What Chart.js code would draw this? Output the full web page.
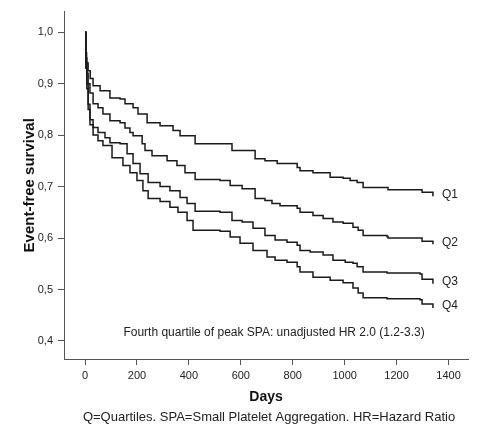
<!DOCTYPE html>
<html>
<head>
<meta charset="utf-8">
<script src="https://cdn.jsdelivr.net/npm/chart.js@4/dist/chart.umd.min.js"></script>
<style>
  body { margin: 0; background: #fff; }
  #wrap { width: 484px; height: 437px; }
</style>
</head>
<body>
<div id="wrap"><canvas id="kmChart" width="484" height="437"></canvas></div>
<script>
// Kaplan-Meier curves (days, survival)
const q1Days = [0, 3, 6, 12, 20, 31, 58, 96, 135, 154, 185, 204, 239, 289, 339, 366, 424, 520, 566, 605, 655, 693, 740, 817, 828, 878, 944, 994, 1021, 1048, 1071, 1163, 1167, 1290, 1298, 1340, 1340];
const q1Surv = [1.0, 0.96, 0.94, 0.925, 0.91, 0.896, 0.886, 0.872, 0.870, 0.861, 0.853, 0.841, 0.824, 0.818, 0.809, 0.799, 0.783, 0.783, 0.770, 0.770, 0.754, 0.750, 0.745, 0.737, 0.731, 0.727, 0.718, 0.716, 0.712, 0.708, 0.698, 0.698, 0.694, 0.694, 0.689, 0.689, 0.681];

const q2Days = [0, 3, 7, 12, 19, 31, 50, 69, 96, 135, 154, 173, 185, 220, 231, 258, 316, 354, 385, 424, 520, 559, 605, 655, 693, 720, 751, 817, 828, 878, 917, 955, 994, 1032, 1052, 1071, 1163, 1167, 1290, 1298, 1340, 1340];
const q2Surv = [1.0, 0.95, 0.92, 0.90, 0.882, 0.861, 0.853, 0.841, 0.828, 0.824, 0.814, 0.805, 0.799, 0.783, 0.770, 0.760, 0.750, 0.741, 0.727, 0.714, 0.712, 0.702, 0.696, 0.677, 0.673, 0.667, 0.663, 0.658, 0.650, 0.644, 0.638, 0.631, 0.629, 0.621, 0.615, 0.605, 0.603, 0.600, 0.600, 0.594, 0.594, 0.588];

const q3Days = [0, 3, 7, 12, 19, 31, 50, 77, 96, 135, 162, 185, 212, 243, 289, 327, 366, 393, 424, 520, 566, 605, 647, 693, 732, 778, 817, 828, 867, 917, 955, 1002, 1032, 1048, 1071, 1163, 1290, 1298, 1340, 1340];
const q3Surv = [1.0, 0.94, 0.90, 0.86, 0.83, 0.815, 0.805, 0.795, 0.785, 0.783, 0.764, 0.745, 0.725, 0.708, 0.700, 0.692, 0.679, 0.667, 0.652, 0.650, 0.634, 0.631, 0.619, 0.605, 0.596, 0.592, 0.586, 0.576, 0.573, 0.567, 0.557, 0.553, 0.551, 0.544, 0.534, 0.532, 0.530, 0.520, 0.520, 0.511];

const q4Days = [0, 3, 7, 12, 19, 31, 50, 69, 104, 127, 146, 173, 200, 223, 243, 289, 327, 358, 393, 416, 520, 559, 597, 647, 701, 732, 778, 817, 828, 878, 944, 994, 1032, 1052, 1071, 1163, 1290, 1298, 1340, 1340];
const q4Surv = [1.0, 0.93, 0.89, 0.85, 0.82, 0.800, 0.789, 0.780, 0.756, 0.756, 0.741, 0.727, 0.712, 0.692, 0.677, 0.671, 0.660, 0.650, 0.634, 0.615, 0.613, 0.602, 0.590, 0.576, 0.563, 0.557, 0.553, 0.544, 0.534, 0.524, 0.518, 0.513, 0.503, 0.493, 0.484, 0.482, 0.480, 0.472, 0.472, 0.464];

const qLabels = ['Q1', 'Q2', 'Q3', 'Q4'];
const xTicks = [0, 200, 400, 600, 800, 1000, 1200, 1400];
const yTicks = [0.4, 0.5, 0.6, 0.7, 0.8, 0.9, 1.0];
const yTickLabels = ['0,4', '0,5', '0,6', '0,7', '0,8', '0,9', '1,0'];

const hrNote = 'Fourth quartile of peak SPA: unadjusted HR 2.0 (1.2-3.3)';
const caption = 'Q=Quartiles. SPA=Small Platelet Aggregation. HR=Hazard Ratio';

const FONT = "'Liberation Sans', Arial, sans-serif";
const axisColor = '#555';

function toPoints(days, surv) {
  return days.map((d, i) => ({ x: d, y: surv[i] }));
}

const series = [[q1Days, q1Surv], [q2Days, q2Surv], [q3Days, q3Surv], [q4Days, q4Surv]];

// labels at the curve ends, note and caption
const textPlugin = {
  id: 'texts',
  afterDraw(chart) {
    const ctx = chart.ctx;
    const xs = chart.scales.x;
    const ys = chart.scales.y;
    ctx.save();
    ctx.fillStyle = '#222';
    ctx.font = '12px ' + FONT;
    ctx.textBaseline = 'middle';
    ctx.textAlign = 'left';
    series.forEach(([d, s], i) => {
      const n = d.length;
      const px = xs.getPixelForValue(d[n - 1]) + 9;
      const py = ys.getPixelForValue(s[n - 2]) + 2;
      ctx.fillText(qLabels[i], px, py);
    });
    ctx.textAlign = 'center';
    ctx.fillText(hrNote, xs.getPixelForValue(728), ys.getPixelForValue(0.416));
    ctx.font = '13px ' + FONT;
    ctx.fillText(caption, 269, 417);
    ctx.restore();
  }
};

const ctx = document.getElementById('kmChart').getContext('2d');
new Chart(ctx, {
  type: 'line',
  data: {
    datasets: series.map(([d, s], i) => ({
      label: qLabels[i],
      data: toPoints(d, s),
      stepped: true,
      borderColor: '#1a1a1a',
      borderWidth: 1.5,
      pointRadius: 0,
      fill: false
    }))
  },
  options: {
    responsive: false,
    animation: false,
    layout: { padding: { left: 0, right: 16, top: 10, bottom: 0 } },
    plugins: { legend: { display: false }, tooltip: { enabled: false } },
    scales: {
      x: {
        type: 'linear',
        min: -81,
        max: 1475,
        afterBuildTicks: (scale) => { scale.ticks = xTicks.map(v => ({ value: v })); },
        afterFit: (scale) => { scale.height = 78; },
        grid: { drawOnChartArea: false, drawTicks: true, tickLength: 6, color: axisColor },
        border: { display: true, color: axisColor, width: 1 },
        ticks: {
          color: '#222',
          font: { family: FONT, size: 11 },
          padding: 4,
          maxRotation: 0,
          callback: (v) => String(v)
        },
        title: {
          display: true,
          text: 'Days',
          color: '#111',
          font: { family: FONT, size: 14, weight: 'bold' },
          padding: { top: 0, bottom: 31.6 }
        }
      },
      y: {
        type: 'linear',
        min: 0.365,
        max: 1.04,
        afterBuildTicks: (scale) => { scale.ticks = yTicks.map(v => ({ value: v })); },
        afterFit: (scale) => { scale.width = 64; },
        grid: { drawOnChartArea: false, drawTicks: true, tickLength: 6, color: axisColor },
        border: { display: true, color: axisColor, width: 1 },
        ticks: {
          color: '#222',
          font: { family: FONT, size: 11 },
          padding: 5,
          callback: (v) => yTickLabels[yTicks.findIndex(t => Math.abs(t - v) < 1e-6)]
        },
        title: {
          display: true,
          text: 'Event-free survival',
          color: '#111',
          font: { family: FONT, size: 15, weight: 'bold' },
          padding: { top: 21, bottom: 0 }
        }
      }
    }
  },
  plugins: [textPlugin]
});
</script>
</body>
</html>
